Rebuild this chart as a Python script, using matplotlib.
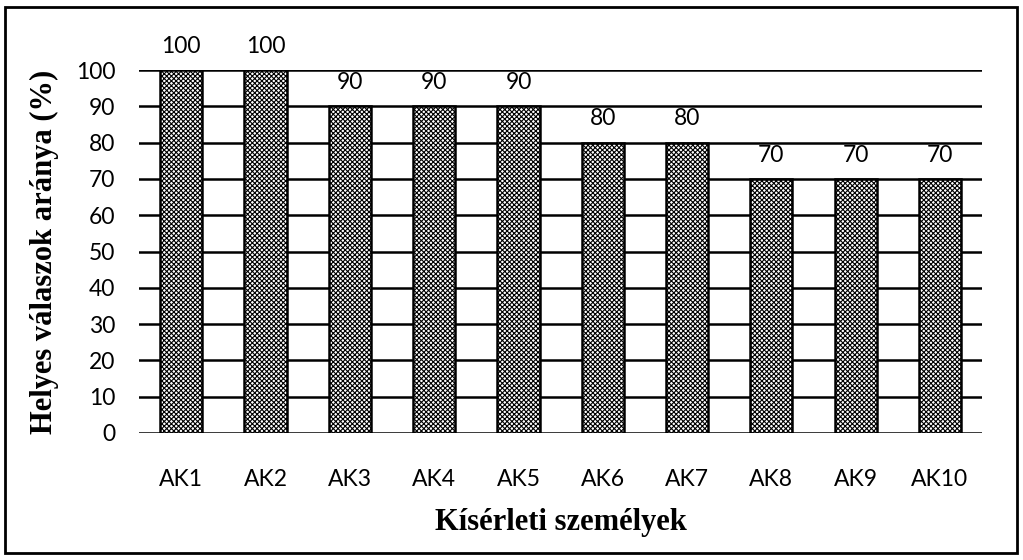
import matplotlib
matplotlib.use("Agg")
import matplotlib.pyplot as plt
from matplotlib.patches import Rectangle

categories = ["AK1", "AK2", "AK3", "AK4", "AK5", "AK6", "AK7", "AK8", "AK9", "AK10"]
values = [100, 100, 90, 90, 90, 80, 80, 70, 70, 70]
y_ticks = list(range(0, 101, 10))

plt.rcParams["hatch.linewidth"] = 0.8

fig = plt.figure(figsize=(10.23, 5.6), dpi=100)
ax = fig.add_axes([0.136, 0.2268, 0.824, 0.648])

# grid lines behind bars
for t in y_ticks:
    ax.axhline(t, color="black", lw=1.8, zorder=1)

ax.bar(range(len(categories)), values, width=0.5, facecolor="white",
       edgecolor="black", hatch="xxxxxxx", linewidth=1.8, zorder=2)

for i, v in enumerate(values):
    ax.text(i, v + 4.8, str(v), ha="center", va="baseline", fontsize=16.5,
            family="Lato", clip_on=False)

ax.set_xlim(-0.5, len(categories) - 0.5)
ax.set_ylim(0, 100)
ax.set_yticks(y_ticks)
ax.set_xticks(range(len(categories)))
ax.set_xticklabels(categories, family="Lato", fontsize=16.5)
ax.set_yticklabels([str(t) for t in y_ticks], family="Lato", fontsize=16.5)
ax.tick_params(axis="x", length=0, pad=26)
ax.tick_params(axis="y", length=0, pad=17)
for s in ax.spines.values():
    s.set_visible(False)

ax.set_ylabel("Helyes válaszok aránya (%)", family="Liberation Serif",
              fontweight="bold", fontsize=22, labelpad=12)
ax.set_xlabel("Kísérleti személyek", family="Liberation Serif",
              fontweight="bold", fontsize=22, labelpad=13)

# outer frame
fig.patches.append(Rectangle((5 / 1023, 7 / 560), 1012 / 1023, 546 / 560,
                             transform=fig.transFigure, fill=False,
                             edgecolor="black", lw=2))

fig.savefig("out.png", dpi=100)
